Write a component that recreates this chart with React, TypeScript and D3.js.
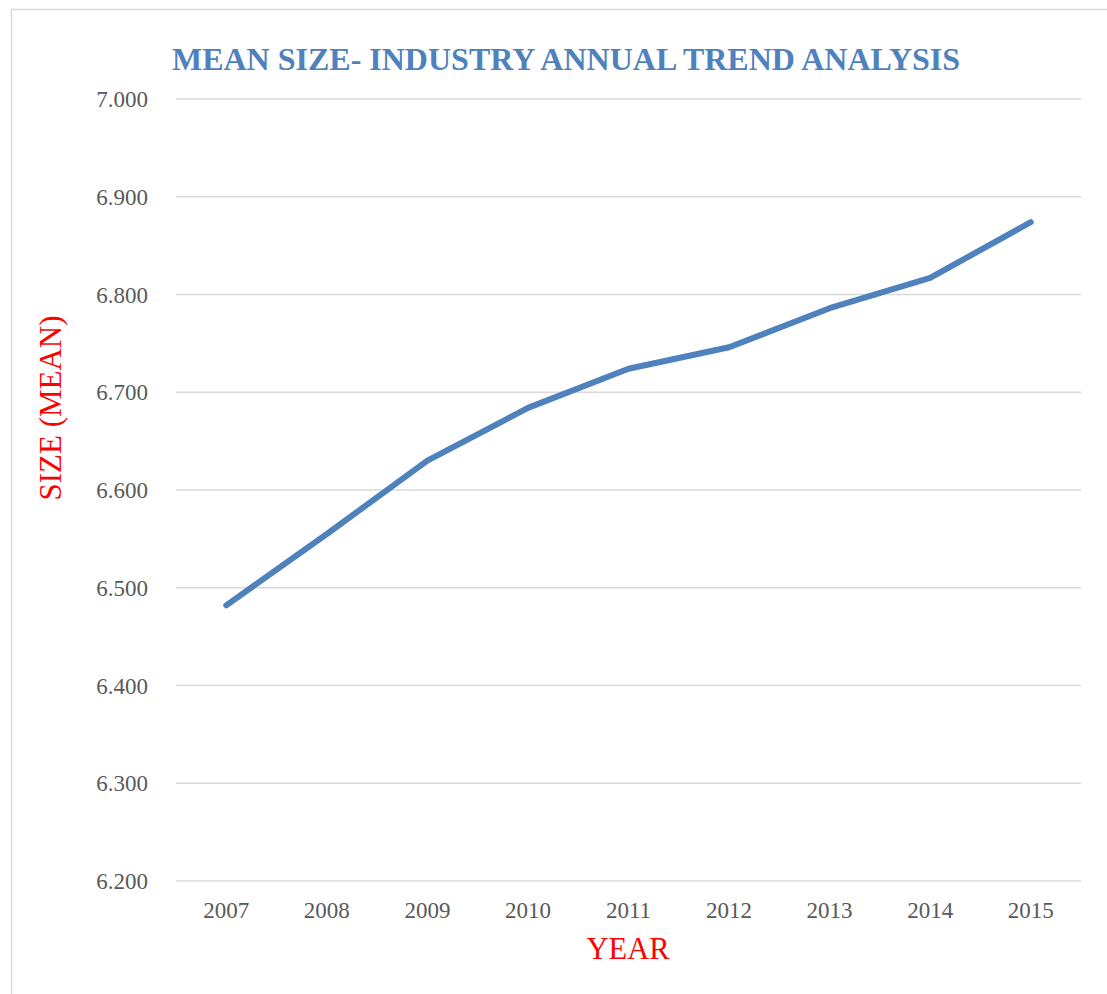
import React from "react";
import * as d3 from "d3";

const years = ["2007", "2008", "2009", "2010", "2011", "2012", "2013", "2014", "2015"];
const meanSize = [6.482, 6.555, 6.630, 6.684, 6.724, 6.746, 6.786, 6.817, 6.874];
const yTicks = [6.2, 6.3, 6.4, 6.5, 6.6, 6.7, 6.8, 6.9, 7.0];

const W = 1107;
const H = 994;
const plot = { left: 176, right: 1081, top: 99, bottom: 881 };
const serif = "'Liberation Serif', 'Times New Roman', serif";

export default function App() {
  const x = d3.scaleBand<string>().domain(years).range([plot.left, plot.right]);
  const y = d3.scaleLinear().domain([6.2, 7.0]).range([plot.bottom, plot.top]);
  const line = d3
    .line<number>()
    .x((_, i) => (x(years[i]) as number) + x.bandwidth() / 2)
    .y((d) => y(d));

  return (
    <svg
      width={W}
      height={H}
      style={{ position: "absolute", left: 0, top: 0, background: "#fff" }}
    >
      <rect x={0} y={0} width={W} height={H} fill="#fff" />
      <rect x={11.5} y={9.5} width={1100} height={990} fill="none" stroke="#d9d9d9" strokeWidth={1.5} />
      <text
        x={566}
        y={70}
        textAnchor="middle"
        fontFamily={serif}
        fontWeight="bold"
        fontSize={32}
        fill="#4F81BD"
      >
        MEAN SIZE- INDUSTRY ANNUAL TREND ANALYSIS
      </text>
      {yTicks.map((t) => (
        <g key={t}>
          <line
            x1={plot.left}
            x2={plot.right}
            y1={y(t)}
            y2={y(t)}
            stroke="#d9d9d9"
            strokeWidth={1.5}
          />
          <text
            x={148}
            y={y(t)}
            dy="0.35em"
            textAnchor="end"
            fontFamily={serif}
            fontSize={23}
            fill="#595959"
          >
            {d3.format(".3f")(t)}
          </text>
        </g>
      ))}
      {years.map((yr) => (
        <text
          key={yr}
          x={(x(yr) as number) + x.bandwidth() / 2}
          y={918}
          textAnchor="middle"
          fontFamily={serif}
          fontSize={23}
          fill="#595959"
        >
          {yr}
        </text>
      ))}
      <path
        d={line(meanSize) as string}
        fill="none"
        stroke="#4F81BD"
        strokeWidth={6}
        strokeLinecap="round"
        strokeLinejoin="round"
      />
      <text
        x={628}
        y={959}
        textAnchor="middle"
        fontFamily={serif}
        fontSize={30.5}
        fill="#ff0000"
      >
        YEAR
      </text>
      <text
        transform={`translate(61,408) rotate(-90)`}
        textAnchor="middle"
        fontFamily={serif}
        fontSize={31}
        fill="#ff0000"
      >
        SIZE (MEAN)
      </text>
    </svg>
  );
}
